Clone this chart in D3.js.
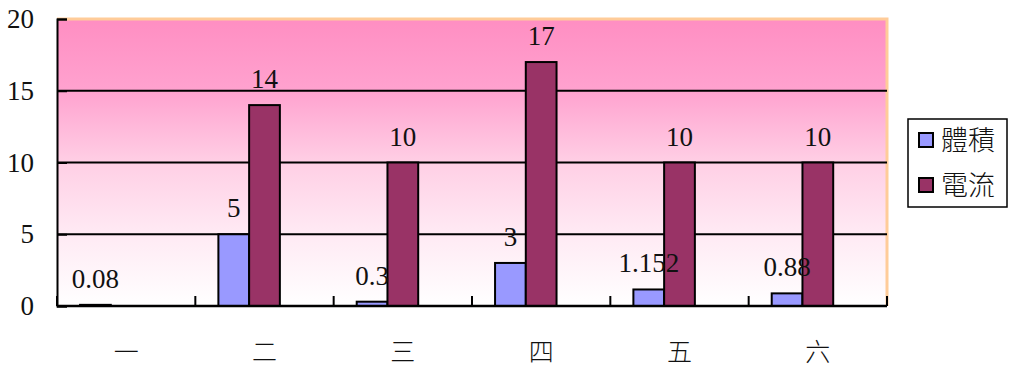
<!DOCTYPE html>
<html>
<head>
<meta charset="utf-8">
<script src="https://cdn.jsdelivr.net/npm/d3@7"></script>
<style>
  body { margin: 0; background: #fff; }
  svg text { font-family: "Liberation Serif", "Times New Roman", "DejaVu Serif", serif; fill: #111; }
  svg text.cjk { font-family: "Noto Sans CJK TC", "Noto Sans CJK SC", sans-serif; font-weight: 300; }
</style>
</head>
<body>
<svg></svg>
<script>
var categories = ["一", "二", "三", "四", "五", "六"];
var seriesNames = ["體積", "電流"];
var volume = [0.08, 5, 0.3, 3, 1.152, 0.88];
var current = [null, 14, 10, 17, 10, 10];
var yTicks = [0, 5, 10, 15, 20];
var seriesColors = ["#9999ff", "#993366"];

var width = 1010;
var height = 367;
var plot = {left: 57, right: 887, top: 19, bottom: 306};

var svg = d3.select("svg")
              .attr("width", width)
              .attr("height", height);

// plot area background
var grad = svg.append("defs")
  .append("linearGradient")
    .attr("id", "bg")
    .attr("x1", 0).attr("y1", 0)
    .attr("x2", 0).attr("y2", 1);

[["0%", "#ff8ec2"], ["25%", "#ffa2cf"], ["50%", "#ffcfe5"], ["75%", "#ffeaf4"], ["100%", "#ffffff"]]
  .forEach(s => grad.append("stop").attr("offset", s[0]).attr("stop-color", s[1]));

var x0 = d3.scaleBand()
              .domain(categories)
              .range([plot.left, plot.right]);

// third empty slot keeps the pair left of centre, like the original
var x1 = d3.scaleBand()
              .domain([0, 1, 2])
              .range([0, x0.bandwidth()])
              .paddingInner(0)
              .paddingOuter(0.75);

var y = d3.scaleLinear()
              .domain([0, 20])
              .range([plot.bottom, plot.top]);

svg.append("rect")
    .attr("x", plot.left)
    .attr("y", plot.top)
    .attr("width", plot.right - plot.left)
    .attr("height", plot.bottom - plot.top)
    .attr("fill", "url(#bg)");

// peach border on top and right
svg.append("path")
    .attr("d", "M" + plot.left + "," + plot.top + "H" + plot.right + "V" + plot.bottom)
    .attr("fill", "none")
    .attr("stroke", "#ffcc99")
    .attr("stroke-width", 3);

// gridlines
svg.append("g")
  .selectAll("line")
  .data(yTicks.filter(d => d > 0 && d < 20))
  .enter()
  .append("line")
    .attr("x1", plot.left)
    .attr("x2", plot.right)
    .attr("y1", d => y(d))
    .attr("y2", d => y(d))
    .attr("stroke", "#000")
    .attr("stroke-width", 2);

// bars
var rows = categories.map((c, i) => ({cat: c, vals: [volume[i], current[i]]}));

var groups = svg.append("g")
  .selectAll("g")
  .data(rows)
  .enter()
  .append("g")
    .attr("transform", d => "translate(" + x0(d.cat) + ",0)");

groups.selectAll("rect")
  .data(d => d.vals.map((v, k) => ({k: k, v: v})).filter(d => d.v != null))
  .enter()
  .append("rect")
    .attr("x", d => x1(d.k))
    .attr("y", d => y(d.v))
    .attr("width", x1.bandwidth())
    .attr("height", d => y(0) - y(d.v))
    .attr("fill", d => seriesColors[d.k])
    .attr("stroke", "#000")
    .attr("stroke-width", 2);

groups.selectAll(".val")
  .data(d => d.vals.map((v, k) => ({k: k, v: v})).filter(d => d.v != null))
  .enter()
  .append("text")
    .classed("val", true)
    .attr("x", d => x1(d.k) + x1.bandwidth() / 2)
    .attr("y", d => y(d.v) - 17)
    .attr("text-anchor", "middle")
    .style("font-size", "27px")
    .text(d => d.v);

// axes
var yAxis = d3.axisLeft(y)
                .tickValues(yTicks)
                .tickSize(-10)
                .tickPadding(23);

svg.append("g")
    .attr("transform", "translate(" + plot.left + ",0)")
    .call(yAxis)
    .attr("font-family", null)
    .attr("font-size", null)
    .call(g => g.selectAll("path, line").attr("stroke", "#000").attr("stroke-width", 2))
    .call(g => g.selectAll("text")
                  .style("font-size", "27px")
                  .attr("fill", "#111"));

var xBounds = d3.range(categories.length + 1).map(i => plot.left + i * x0.step());

var xAxis = svg.append("g");

xAxis.append("line")
    .attr("x1", plot.left)
    .attr("x2", plot.right)
    .attr("y1", plot.bottom)
    .attr("y2", plot.bottom)
    .attr("stroke", "#000")
    .attr("stroke-width", 2.5);

xAxis.selectAll(".tick")
  .data(xBounds)
  .enter()
  .append("line")
    .attr("x1", d => d)
    .attr("x2", d => d)
    .attr("y1", plot.bottom)
    .attr("y2", plot.bottom - 10)
    .attr("stroke", "#000")
    .attr("stroke-width", 2);

xAxis.selectAll("text")
  .data(categories)
  .enter()
  .append("text")
    .classed("cjk", true)
    .attr("x", d => x0(d) + x0.bandwidth() / 2)
    .attr("y", 352)
    .attr("dy", "0.35em")
    .attr("text-anchor", "middle")
    .style("font-size", "25px")
    .text(d => d);

// legend
var legend = svg.append("g");

legend.append("rect")
    .attr("x", 908)
    .attr("y", 119)
    .attr("width", 99)
    .attr("height", 88)
    .attr("fill", "#fff")
    .attr("stroke", "#000")
    .attr("stroke-width", 1.5);

var items = legend.selectAll(".item")
  .data(seriesNames)
  .enter()
  .append("g")
    .attr("transform", (d, i) => "translate(918," + (140 + i * 45) + ")");

items.append("rect")
    .attr("x", 1)
    .attr("y", -7)
    .attr("width", 14)
    .attr("height", 14)
    .attr("fill", (d, i) => seriesColors[i])
    .attr("stroke", "#000")
    .attr("stroke-width", 2);

items.append("text")
    .classed("cjk", true)
    .attr("x", 23)
    .attr("dy", "0.36em")
    .style("font-size", "27px")
    .text(d => d);
</script>
</body>
</html>
